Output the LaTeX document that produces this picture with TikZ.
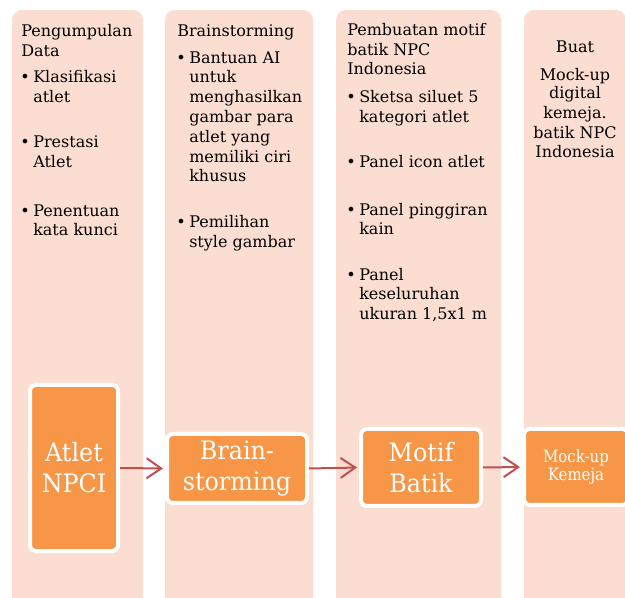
\documentclass[tikz,border=0pt]{standalone}
\usepackage{fontspec}
\setmainfont{DejaVu Serif}
\newfontfamily\condfont[FakeStretch=0.88]{DejaVu Serif}
\newfontfamily\boxfont[FakeStretch=0.94]{DejaVu Serif}
\usetikzlibrary{arrows.meta}
\definecolor{colbg}{HTML}{FCDDD1}
\definecolor{boxor}{HTML}{F79646}
\definecolor{arr}{HTML}{C0504D}
\begin{document}
\begin{tikzpicture}[x=0.75pt,y=-0.75pt,
  col/.style={fill=colbg, rounded corners=7.5pt},
  txt/.style={anchor=base west, inner sep=0pt, font=\fontsize{12}{14}\selectfont},
  ctxt/.style={anchor=base, inner sep=0pt, font=\fontsize{12}{14}\selectfont},
  obox/.style={draw=white, line width=3pt, fill=boxor, rounded corners=4.5pt,
    text=white, align=center, inner sep=0pt},
  bigt/.style={font=\boxfont\fontsize{19}{23.2}\selectfont},
  smallt/.style={font=\condfont\fontsize{12.75}{13.5}\selectfont},
  flow/.style={draw=arr, line width=1.5pt, shorten >=1.5pt,
    -{Straight Barb[length=11pt,width=15pt]}}]
\useasboundingbox (0,0) rectangle (625,598);
% columns
\path[col] (12,10) rectangle (143,615);
\path[col] (165,10) rectangle (313,615);
\path[col] (336,10) rectangle (501,615);
\path[col] (524,10) rectangle (626,615);
% column 1
\node[txt] (h1a) at (21,37) {Pengumpulan};
\node[txt] (h1b) at (21,57) {Data};
\foreach \n/\y in {a/83,b/148,c/217} \node[txt] (b1\n) at (20,\y) {•};
\foreach \n/\y/\t in {a/83/Klasifikasi, b/103/atlet, c/148/Prestasi, d/168/Atlet, e/217/Penentuan, f/236/kata kunci}
  \node[txt] (c1\n) at (33,\y) {\t};
% column 2
\node[txt] (h2a) at (177,37) {Brainstorming};
\foreach \n/\y in {a/64,b/228} \node[txt] (b2\n) at (176,\y) {•};
\foreach \n/\y/\t in {a/64/Bantuan AI, b/83/untuk, c/103/menghasilkan, d/123/gambar para, e/143/atlet yang, f/163/memiliki ciri, g/182/khusus, h/228/Pemilihan, i/248/style gambar}
  \node[txt] (c2\n) at (189,\y) {\t};
% column 3
\node[txt] (h3a) at (347,36) {Pembuatan motif};
\node[txt] (h3b) at (347,56) {batik NPC};
\node[txt] (h3c) at (347,75) {Indonesia};
\foreach \n/\y in {a/103,b/168,c/216,d/281} \node[txt] (b3\n) at (346,\y) {•};
\foreach \n/\y/\t in {a/103/Sketsa siluet 5, b/123/kategori atlet, c/168/Panel icon atlet, d/216/Panel pinggiran, e/235/kain, f/281/Panel, g/300/keseluruhan, h/320/{ukuran 1,5x1 m}}
  \node[txt] (c3\n) at (359,\y) {\t};
% column 4
\foreach \n/\y/\t in {a/53/Buat, b/81/Mock-up, c/99/digital, d/119/kemeja., e/139/batik NPC, f/158/Indonesia}
  \node[ctxt] (c4\n) at (575,\y) {\t};
% flow boxes
\node[obox, bigt, minimum width=66pt, minimum height=124.5pt] (atlet) at (74,468) {Atlet\\NPCI};
\node[obox, bigt, minimum width=105pt, minimum height=51.75pt] (brain) at (237,468.5) {Brain-\\storming};
\node[obox, bigt, minimum width=90pt, minimum height=57.75pt] (motif) at (421,467.5) {Motif\\Batik};
\node[obox, smallt, minimum width=78pt, minimum height=57pt] (mock) at (576,467) {Mock-up\\Kemeja};
% connectors
\draw[flow] (atlet.east) -- (brain.west);
\draw[flow] (brain.east) -- (motif.west);
\draw[flow] (motif.east) -- (mock.west);
\end{tikzpicture}
\end{document}
